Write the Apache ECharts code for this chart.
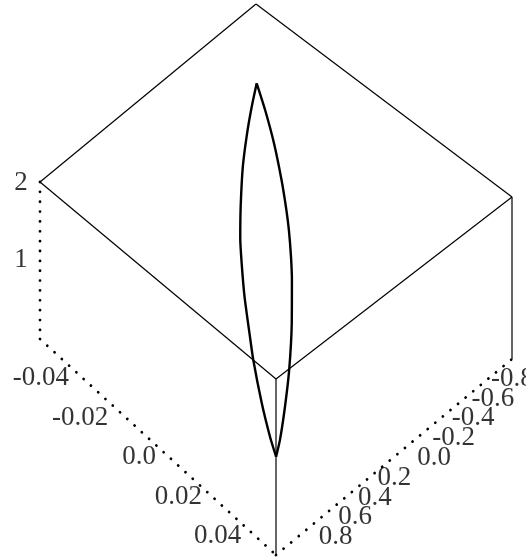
<!DOCTYPE html>
<html>
<head>
<meta charset="utf-8">
<script src="https://cdn.jsdelivr.net/npm/echarts@6/dist/echarts.min.js"></script>
<style>
  html, body { margin: 0; background: #fff; }
  #chart { width: 526px; height: 559px; }
</style>
</head>
<body>
<div id="chart"></div>
<script>
// 3D data
const xTicks = [-0.04, -0.02, 0.0, 0.02, 0.04]
const xTickLabels = ['-0.04', '-0.02', '0.0', '0.02', '0.04']
const yTicks = [-0.8, -0.6, -0.4, -0.2, 0.0, 0.2, 0.4, 0.6, 0.8]
const yTickLabels = ['-0.8', '-0.6', '-0.4', '-0.2', '0.0', '0.2', '0.4', '0.6', '0.8']
const zTicks = [1, 2]
const zTickLabels = ['1', '2']

const xRange = [-0.055, 0.055]
const yRange = [-1, 1]
const zRange = [0, 2]

// curve, bottom tip to top tip on the left side
const riseX = [0.0289, 0.0247, 0.0179, 0.0096, 0.0052, -0.002, -0.0078, -0.0121, -0.0169, -0.0229, -0.0272, -0.0305, -0.0331]
const riseY = [0.515, 0.488, 0.43, 0.344, 0.288, 0.195, 0.106, 0.033, -0.067, -0.208, -0.334, -0.444, -0.543]
const riseZ = [0, 0.11, 0.29, 0.52, 0.64, 0.86, 1.04, 1.17, 1.34, 1.55, 1.73, 1.87, 2]
// and back down on the right side
const fallX = [-0.0331, -0.0268, -0.0195, -0.012, -0.0062, -0.0026, 0.0021, 0.006, 0.0126, 0.0189, 0.0236, 0.0273, 0.0289]
const fallY = [-0.543, -0.489, -0.419, -0.334, -0.26, -0.21, -0.135, -0.066, 0.065, 0.21, 0.337, 0.451, 0.515]
const fallZ = [2, 1.86, 1.68, 1.48, 1.32, 1.21, 1.07, 0.95, 0.72, 0.46, 0.27, 0.09, 0]

// where the corners of the box land in the view plane
const floorCorners = { back: [256, 152], right: [512, 359], left: [40, 339], front: [276, 555] }
const roofCorners = { back: [256, 4], right: [512, 197], left: [40, 182], front: [276, 379] }

const mix = (a, b, t) => a + (b - a) * t

// x, y, z -> view plane
const project = (x, y, z) => {
  const u = (x - xRange[0]) / (xRange[1] - xRange[0])
  const v = (y - yRange[0]) / (yRange[1] - yRange[0])
  const w = (z - zRange[0]) / (zRange[1] - zRange[0])
  const side = (c, k) => mix(mix(c.back[k], c.right[k], u), mix(c.left[k], c.front[k], u), v)
  return [mix(side(floorCorners, 0), side(roofCorners, 0), w), mix(side(floorCorners, 1), side(roofCorners, 1), w)]
}

const [x0, x1] = xRange
const [y0, y1] = yRange
const [z0, z1] = zRange

const solid = (from, to) => ({
  type: 'line',
  data: [project(...from), project(...to)],
  showSymbol: false,
  silent: true,
  clip: false,
  lineStyle: { color: '#000', width: 1.2 },
})

const dotted = (from, to) => ({
  type: 'line',
  data: [project(...from), project(...to)],
  showSymbol: false,
  silent: true,
  clip: false,
  lineStyle: { color: '#000', width: 2.8, type: [0.01, 9.85], cap: 'round' },
})

const curve = (xs, ys, zs) => ({
  type: 'line',
  data: xs.map((x, i) => project(x, ys[i], zs[i])),
  smooth: 0.2,
  showSymbol: false,
  silent: true,
  clip: false,
  z: 5,
  lineStyle: { color: '#000', width: 2.4, join: 'miter' },
})

const labels = (points) => ({
  type: 'scatter',
  data: points,
  symbolSize: 0,
  silent: true,
  clip: false,
  z: 6,
  label: {
    show: true,
    position: 'inside',
    formatter: (p) => p.value[2],
    color: '#000',
    fontFamily: '"Liberation Serif", serif',
    fontSize: 27,
  },
})

// tick labels sit off their axis, and jump sideways where the sign changes
const xLabelPoints = xTicks.map((t, i) => [(t < 0 ? 119.5 : 139) + 1963 * t, 457 + 1975 * t, xTickLabels[i]])
const yLabelPoints = yTicks.map((t, i) => [(t > 0 ? 414 : 434) - 98 * t, 458 + 99 * t, yTickLabels[i]])
const zLabelPoints = zTicks.map((t, i) => [21, 337 - 77 * t, zTickLabels[i]])

const chart = echarts.init(document.getElementById('chart'), null, { renderer: 'canvas' })
chart.setOption({
  animation: false,
  backgroundColor: '#fff',
  grid: { left: 0, right: 0, top: 0, bottom: 0 },
  xAxis: { type: 'value', min: 0, max: 526, show: false },
  yAxis: { type: 'value', min: 0, max: 559, inverse: true, show: false },
  series: [
    // roof of the box
    solid([x0, y0, z1], [x0, y1, z1]),
    solid([x0, y0, z1], [x1, y0, z1]),
    solid([x0, y1, z1], [x1, y1, z1]),
    solid([x1, y0, z1], [x1, y1, z1]),
    // uprights
    solid([x1, y1, z0], [x1, y1, z1]),
    solid([x1, y0, z0], [x1, y0, z1]),
    // axes
    dotted([x0, y1, z1], [x0, y1, z0]),
    dotted([x0, y1, z0], [x1, y1, z0]),
    dotted([x1, y1, z0], [x1, y0, z0]),
    curve(riseX, riseY, riseZ),
    curve(fallX, fallY, fallZ),
    labels(xLabelPoints),
    labels(yLabelPoints),
    labels(zLabelPoints),
  ],
})
</script>
</body>
</html>
